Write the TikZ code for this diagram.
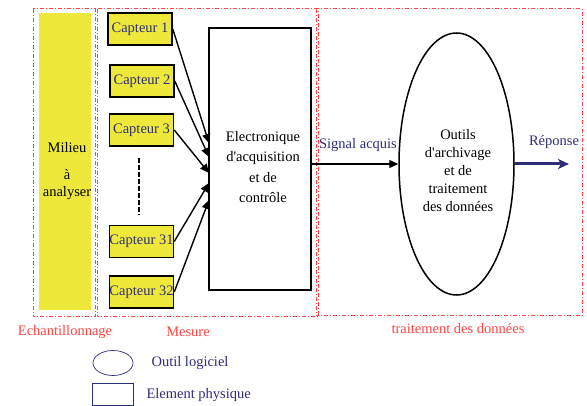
\documentclass[tikz,border=0pt]{standalone}
\usepackage{fontspec}
\setmainfont{Liberation Serif}[Ligatures=TeXOff]
\usetikzlibrary{shapes.geometric,arrows.meta}
\definecolor{capjaune}{RGB}{238,232,58}
\definecolor{rouge}{RGB}{255,70,70}
\definecolor{marine}{RGB}{45,45,120}
\tikzset{
  cadre/.style={rouge,line width=1pt,dash pattern=on 4pt off 2pt on 1pt off 2pt},
  capteur/.style={draw,line width=1.5pt,fill=capjaune,text=marine,minimum width=64pt,minimum height=32pt,inner sep=0pt},
  fleche/.style={-{Triangle[length=9pt,width=8pt]},line width=1.4pt},
  titre/.style={text=rouge},
  legende/.style={draw=marine,line width=0.7pt}
}
\begin{document}
\begin{tikzpicture}[x=1pt,y=-1pt,font=\fontsize{14.5}{17}\selectfont]
\useasboundingbox (0,0) rectangle (587,406);
\draw[cadre] (33,9) rectangle (95,317);
\draw[cadre] (97,9) rectangle (318,317);
\draw[cadre] (316,9) rectangle (582,316);
\node[fill=capjaune,minimum width=52pt,minimum height=297pt,inner sep=0pt] (milieu) at (65,161.5) {};
\node[align=center,font=\fontsize{14.5}{17}\selectfont] (milieutxt) at (67,171) {Milieu\\[10pt] \`a\\ analyser};
\node[capteur] (cap1) at (140,29) {Capteur 1};
\node[capteur] (cap2) at (142,81) {Capteur 2};
\node[capteur] (cap3) at (141.5,130) {Capteur 3};
\node[capteur] (cap31) at (141.5,241.5) {Capteur 31};
\node[capteur] (cap32) at (141.5,292) {Capteur 32};
\draw[line width=1.6pt,dash pattern=on 5pt off 2pt] (139,158) -- (139,215);
\node[draw,line width=1.5pt,minimum width=102pt,minimum height=262pt,inner sep=0pt] (elec) at (260,159) {};
\node[align=center,font=\fontsize{14.5}{20.5}\selectfont] (electxt) at (263,167) {Electronique\\ d'acquisition\\ et de\\ contr\^ole};
\coordinate (in1) at (209,143);
\coordinate (in2) at (209,157);
\coordinate (in3) at (209,173);
\coordinate (in31) at (209,183);
\coordinate (in32) at (209,200);
\draw[fleche] (cap1.east) -- (in1);
\draw[fleche] (cap2.east) -- (in2);
\draw[fleche] (cap3.east) -- (in3);
\draw[fleche] (cap31.east) -- (in31);
\draw[fleche] (cap32.east) -- (in32);
\node[draw,ellipse,line width=1.5pt,minimum width=115pt,minimum height=262pt,inner sep=0pt] (outils) at (456.5,164) {};
\node[align=center,font=\fontsize{14.5}{18}\selectfont] (outilstxt) at (458,171) {Outils\\ d'archivage\\ et de\\ traitement\\ des donn\'ees};
\draw[fleche] (elec.east |- outils.west) -- (outils.west);
\node[text=marine] (signal) at (358,145) {Signal acquis};
\coordinate (sortie) at (569,164);
\draw[-{Stealth[length=11pt,width=10pt,inset=3pt]},marine,line width=3pt] (outils.east) -- (sortie);
\node[text=marine] (reponse) at (554,142) {R\'eponse};
\node[titre] (echant) at (65,332) {Echantillonnage};
\node[titre] (mesure) at (188,332) {Mesure};
\node[titre] (traitement) at (458,329) {traitement des donn\'ees};
\node[legende,ellipse,minimum width=40pt,minimum height=25pt,inner sep=0pt] (legell) at (113,363) {};
\node[text=marine,anchor=west] (legelltxt) at (148,363) {Outil logiciel};
\node[legende,minimum width=41pt,minimum height=22pt,inner sep=0pt] (legrect) at (112.5,394) {};
\node[text=marine,anchor=west] (legrecttxt) at (143,395) {Element physique};
\end{tikzpicture}
\end{document}
